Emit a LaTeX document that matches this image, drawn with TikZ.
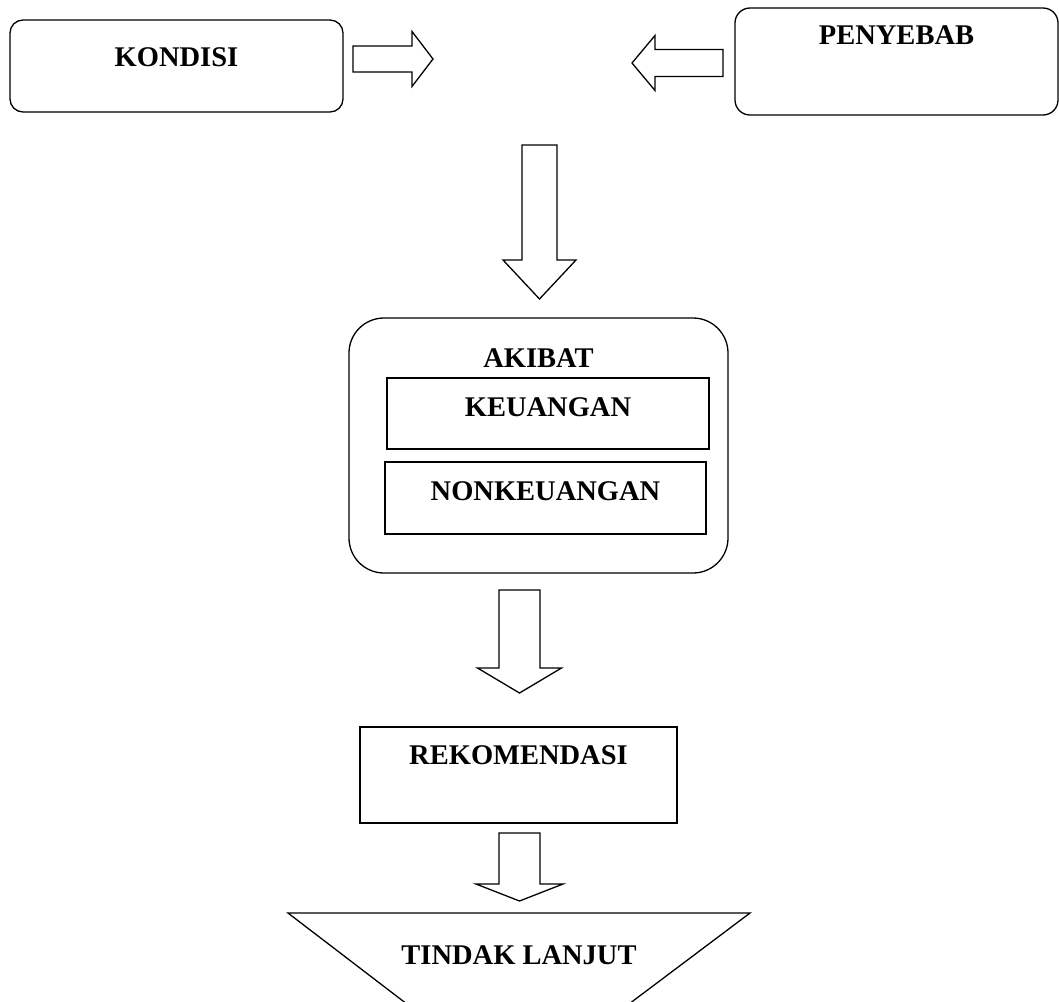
\documentclass[tikz,border=0pt]{standalone}
\usepackage{fontspec}
\setmainfont{Liberation Serif}
\usetikzlibrary{positioning}

\begin{document}
\begin{tikzpicture}[x=1pt, y=-1pt,
    every node/.style={font=\fontsize{28.5}{34}\selectfont\bfseries, align=center, inner sep=0pt, text height=18.9pt},
    box/.style={draw, line width=1.3pt},
    rbox/.style={box, rounded corners=#1},
    arrline/.style={line width=1.3pt, line join=miter},
    pics/blockarrow/.style args={#1/#2/#3/#4}{code={
        \draw[arrline] (0,-#2) -- (#1,-#2) -- (#1,-#4) -- (#1+#3,0) -- (#1,#4) -- (#1,#2) -- (0,#2) -- cycle;
    }}
]
\useasboundingbox (0,0) rectangle (1059,1001);
\clip (0,0) rectangle (1059,1001);
% Top row
\node[rbox=13pt, minimum width=333pt, minimum height=92pt, text depth=17pt] (kondisi) at (176.5,66) {KONDISI};
\node[rbox=15pt, minimum width=323pt, minimum height=107pt, text depth=52pt] (penyebab) at (896.5,61.5) {PENYEBAB};
\pic at (353,59) {blockarrow=59/13/21/27.5};
\pic[rotate=180] at (723,63) {blockarrow=68/13.5/23/27.5};
% Akibat
\pic[rotate=-90] at (539.5,145) {blockarrow=115/17.5/39/36.5};
\node[rbox=35pt, minimum width=379pt, minimum height=255pt, text depth=175pt] (akibat) at (538.5,445.5) {AKIBAT};
\node[box, minimum width=322pt, minimum height=71pt, text depth=13pt] (keuangan) at (548,413.5) {KEUANGAN};
\node[box, minimum width=321pt, minimum height=72pt, text depth=14pt] (nonkeuangan) at (545.5,498) {NONKEUANGAN};
% Rekomendasi and tindak lanjut
\pic[rotate=-90] at (519.5,590) {blockarrow=78/20.5/25/42};
\node[box, minimum width=317pt, minimum height=96pt, text depth=39pt] (rekomendasi) at (518.5,775) {REKOMENDASI};
\pic[rotate=-90] at (519.5,833) {blockarrow=51/20.5/17/43.5};
\draw[box] (288,913) -- (750,913) -- (607.7,1020) -- (427.8,1020) -- cycle;
\node (tindak) at (519,955) {TINDAK LANJUT};
\end{tikzpicture}
\end{document}
